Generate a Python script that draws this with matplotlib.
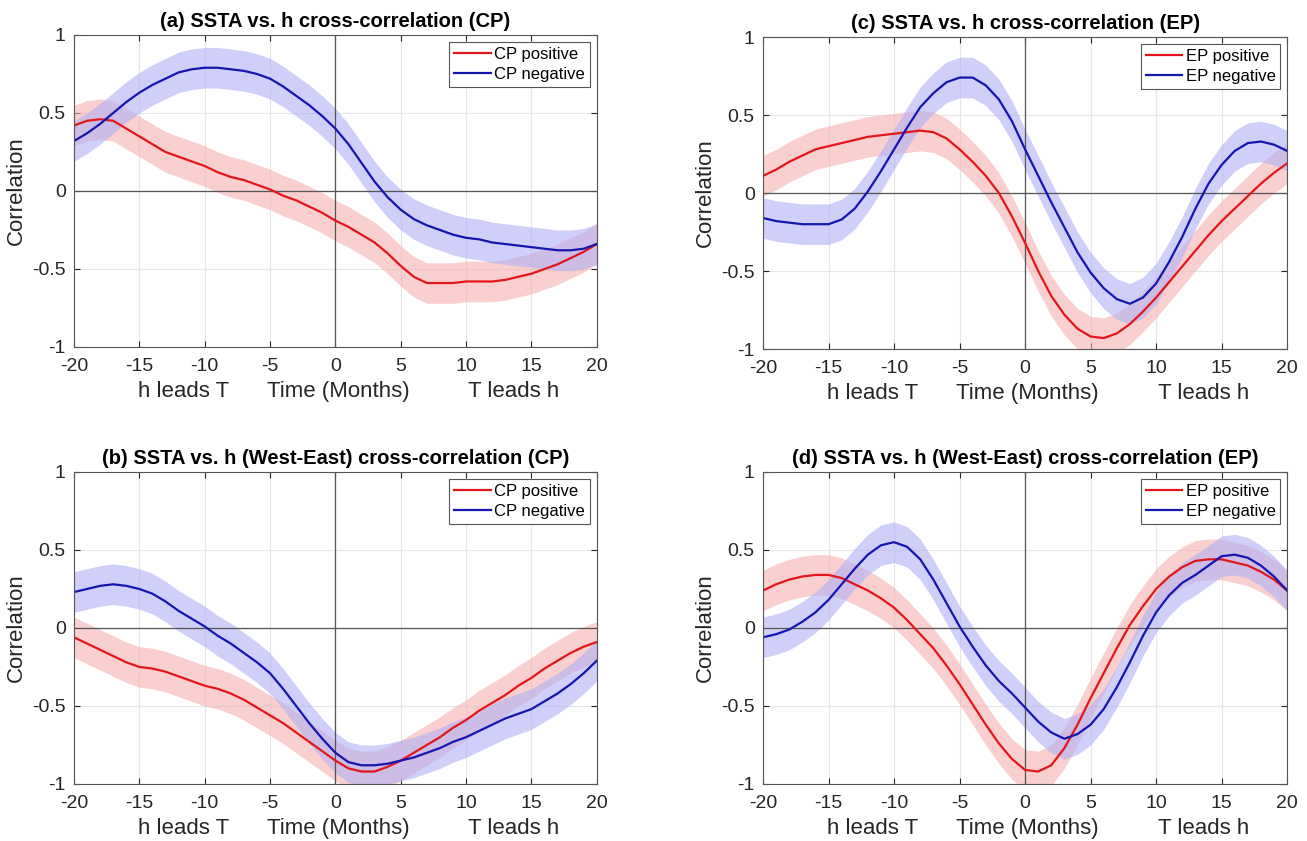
import numpy as np
import matplotlib.pyplot as plt

plt.rcParams['font.family'] = ['Liberation Sans', 'DejaVu Sans']
plt.rcParams['axes.unicode_minus'] = False

lags = np.arange(-20, 21)

# (a) SSTA vs h, CP
a_pos = [0.42, 0.45, 0.46, 0.45, 0.40, 0.35, 0.30, 0.25, 0.22, 0.19, 0.16, 0.12, 0.09, 0.07,
         0.04, 0.01, -0.03, -0.06, -0.10, -0.14, -0.19, -0.23, -0.28, -0.33, -0.40, -0.48,
         -0.55, -0.59, -0.59, -0.59, -0.58, -0.58, -0.58, -0.57, -0.55, -0.53, -0.50, -0.47,
         -0.43, -0.39, -0.34]
a_neg = [0.32, 0.37, 0.43, 0.50, 0.57, 0.63, 0.68, 0.72, 0.76, 0.78, 0.79, 0.79, 0.78, 0.77,
         0.75, 0.72, 0.67, 0.61, 0.55, 0.48, 0.40, 0.30, 0.18, 0.06, -0.04, -0.12, -0.18,
         -0.22, -0.25, -0.28, -0.30, -0.31, -0.33, -0.34, -0.35, -0.36, -0.37, -0.38, -0.38,
         -0.37, -0.34]

# (b) SSTA vs h (West-East), CP
b_pos = [-0.06, -0.10, -0.14, -0.18, -0.22, -0.25, -0.26, -0.28, -0.31, -0.34, -0.37, -0.39,
         -0.42, -0.46, -0.51, -0.56, -0.61, -0.67, -0.73, -0.79, -0.85, -0.90, -0.92, -0.92,
         -0.89, -0.85, -0.80, -0.75, -0.70, -0.64, -0.59, -0.53, -0.48, -0.43, -0.37, -0.32,
         -0.26, -0.21, -0.16, -0.12, -0.09]
b_neg = [0.23, 0.25, 0.27, 0.28, 0.27, 0.25, 0.22, 0.17, 0.11, 0.06, 0.01, -0.05, -0.10,
         -0.16, -0.22, -0.29, -0.39, -0.50, -0.61, -0.71, -0.80, -0.86, -0.88, -0.88, -0.87,
         -0.85, -0.83, -0.80, -0.77, -0.73, -0.70, -0.66, -0.62, -0.58, -0.55, -0.52, -0.47,
         -0.42, -0.36, -0.29, -0.21]

# (c) SSTA vs h, EP
c_pos = [0.11, 0.15, 0.20, 0.24, 0.28, 0.30, 0.32, 0.34, 0.36, 0.37, 0.38, 0.39, 0.40, 0.39,
         0.35, 0.28, 0.20, 0.11, 0.00, -0.15, -0.32, -0.50, -0.66, -0.78, -0.87, -0.92, -0.93,
         -0.90, -0.84, -0.76, -0.67, -0.57, -0.47, -0.37, -0.27, -0.18, -0.10, -0.02, 0.06,
         0.13, 0.19]
c_neg = [-0.16, -0.18, -0.19, -0.20, -0.20, -0.20, -0.17, -0.10, 0.01, 0.14, 0.28, 0.42, 0.55,
         0.64, 0.71, 0.74, 0.74, 0.69, 0.60, 0.46, 0.28, 0.11, -0.06, -0.22, -0.38, -0.51,
         -0.61, -0.68, -0.71, -0.67, -0.58, -0.44, -0.28, -0.10, 0.06, 0.18, 0.27, 0.32, 0.33,
         0.31, 0.27]

# (d) SSTA vs h (West-East), EP
d_pos = [0.24, 0.28, 0.31, 0.33, 0.34, 0.34, 0.32, 0.28, 0.24, 0.19, 0.13, 0.05, -0.04, -0.13,
         -0.24, -0.36, -0.49, -0.62, -0.74, -0.84, -0.91, -0.92, -0.88, -0.77, -0.62, -0.45,
         -0.29, -0.13, 0.02, 0.14, 0.25, 0.33, 0.39, 0.43, 0.44, 0.44, 0.42, 0.40, 0.36, 0.31,
         0.24]
d_neg = [-0.06, -0.04, -0.01, 0.04, 0.10, 0.18, 0.28, 0.38, 0.47, 0.53, 0.55, 0.52, 0.44, 0.31,
         0.16, 0.01, -0.12, -0.24, -0.34, -0.42, -0.51, -0.60, -0.67, -0.71, -0.68, -0.62,
         -0.52, -0.38, -0.22, -0.05, 0.10, 0.21, 0.29, 0.34, 0.40, 0.46, 0.47, 0.45, 0.40,
         0.33, 0.24]

band = 0.13

# title, event type, positive, negative, axes rect
panels = [
    ('(a) SSTA vs. h cross-correlation (CP)', 'CP', a_pos, a_neg, [0.0566, 0.5874, 0.400, 0.371]),
    ('(c) SSTA vs. h cross-correlation (EP)', 'EP', c_pos, c_neg, [0.5838, 0.5850, 0.401, 0.371]),
    ('(b) SSTA vs. h (West-East) cross-correlation (CP)', 'CP', b_pos, b_neg, [0.0566, 0.0678, 0.400, 0.371]),
    ('(d) SSTA vs. h (West-East) cross-correlation (EP)', 'EP', d_pos, d_neg, [0.5838, 0.0678, 0.401, 0.371]),
]

red = '#e3161b'
blue = '#1515b0'
dark = '#262626'

fig = plt.figure(figsize=(13.07, 8.41), dpi=100)

for title, kind, pos, neg, rect in panels:
    ax = fig.add_axes(rect)
    pos = np.array(pos)
    neg = np.array(neg)
    ax.fill_between(lags, pos - band, pos + band, color='#f7b0b0', alpha=0.6, lw=0)
    ax.fill_between(lags, neg - band, neg + band, color='#b0b0f7', alpha=0.6, lw=0)
    ax.plot(lags, pos, color=red, lw=1.6, label=kind + ' positive')
    ax.plot(lags, neg, color=blue, lw=1.6, label=kind + ' negative')
    ax.axhline(0, color='#555555', lw=0.9, zorder=1)
    ax.axvline(0, color='#555555', lw=0.9, zorder=1)
    ax.set_xlim(-20, 20)
    ax.set_ylim(-1, 1)
    ax.set_xticks(np.arange(-20, 21, 5))
    ax.set_yticks([-1, -0.5, 0, 0.5, 1])
    ax.set_yticklabels(['-1', '-0.5', '0', '0.5', '1'])
    ax.grid(True, color='#e6e6e6', lw=0.8)
    ax.set_axisbelow(True)
    ax.tick_params(direction='in', labelsize=14, colors=dark, length=4,
                   top=True, right=True)
    ax.tick_params(axis='x', pad=8)
    ax.tick_params(axis='y', pad=6)
    for s in ax.spines.values():
        s.set_color('#555555')
        s.set_linewidth(0.8)
    ax.set_title(title, fontsize=14.5, fontweight='bold', pad=6)
    ax.set_ylabel('Correlation', fontsize=16, color=dark)
    ax.yaxis.set_label_coords(-0.09, 0.5)
    xt = ax.get_xaxis_transform()
    ax.text(-11.6, -0.144, 'h leads T', transform=xt, ha='center', va='center',
            fontsize=16, color=dark)
    ax.text(0.2, -0.144, 'Time (Months)', transform=xt, ha='center', va='center',
            fontsize=16, color=dark)
    ax.text(13.6, -0.144, 'T leads h', transform=xt, ha='center', va='center',
            fontsize=16, color=dark)
    leg = ax.legend(loc='upper right', fontsize=12, fancybox=False, framealpha=1,
                    edgecolor='#555555', handlelength=2.2, borderaxespad=0.4,
                    borderpad=0.3, labelspacing=0.3, handletextpad=0.2)
    leg.get_frame().set_linewidth(0.8)

fig.savefig('out.png', dpi=100)
